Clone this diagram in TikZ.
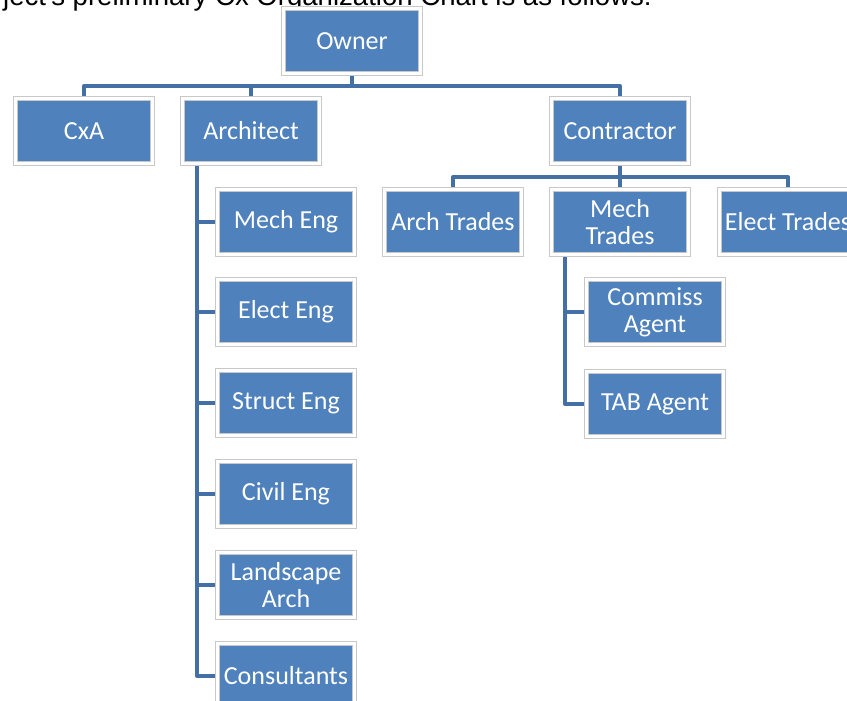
\documentclass[tikz,border=0pt]{standalone}
\usepackage{fontspec}
\setmainfont{Carlito}
\newfontfamily\arialfont{Liberation Sans}
\usetikzlibrary{backgrounds}
\definecolor{boxblue}{HTML}{4F81BD}
\definecolor{linkblue}{HTML}{4470A6}
\definecolor{boxframe}{HTML}{C8C8C8}

\begin{document}
\begin{tikzpicture}[x=0.025cm, y=-0.025cm,
    box/.style={fill=boxblue, text=white, draw=boxframe, double=white, line width=0.65pt,
        double distance=2.4pt, minimum width=3.43cm, minimum height=1.62cm, inner sep=1pt,
        align=center, font=\fontsize{18.5}{19.5}\selectfont},
    link/.style={draw=linkblue, line width=2.8pt, line join=round}]
    % Page frame
    \useasboundingbox (0,0) rectangle (847,700);
    \clip (0,0) rectangle (847,700);

    % Sentence above the chart
    \node[anchor=base east, inner sep=0pt, font=\arialfont\fontsize{19.6}{22}\selectfont] (intro) at (652,5)
        {ject's preliminary Cx Organization Chart is as follows:};

    % Top levels
    \node[box] (owner) at (352,41) {Owner};
    \node[box] (cxa) at (84,131) {CxA};
    \node[box] (arch) at (251,131) {Architect};
    \node[box] (contr) at (620,131) {Contractor};

    % Contractor's trades
    \node[box] (archtr) at (453,222) {Arch Trades};
    \node[box] (mechtr) at (620,222) {Mech\\Trades};
    \node[box] (electtr) at (788,222) {Elect Trades};
    \node[box] (commiss) at (655,312) {Commiss\\Agent};
    \node[box] (tab) at (655,404) {TAB Agent};

    % Architect's consultants
    \node[box] (mecheng) at (286,222) {Mech Eng};
    \node[box] (electeng) at (286,312) {Elect Eng};
    \node[box] (structeng) at (286,403) {Struct Eng};
    \node[box] (civileng) at (286,494) {Civil Eng};
    \node[box] (landarch) at (286,585) {Landscape\\Arch};
    \node[box] (consult) at (286,676) {Consultants};

    % Bus lines
    \coordinate (topbus) at (0,86);
    \coordinate (tradebus) at (0,177);
    \coordinate (archspine) at (197,0);
    \coordinate (mechspine) at (565,0);

    \begin{scope}[on background layer]
        % Owner to first row
        \draw[link] (owner) -- (owner |- topbus);
        \draw[link] (cxa) |- (contr |- topbus) -- (contr);
        \draw[link] (arch) -- (arch |- topbus);

        % Contractor to trades
        \draw[link] (contr) -- (contr |- tradebus);
        \draw[link] (archtr) |- (electtr |- tradebus) -- (electtr);
        \draw[link] (mechtr) |- (mechtr |- tradebus);

        % Mech trades to agents
        \draw[link] (mechtr.south -| mechspine) |- (tab.west);
        \draw[link] (mechspine |- commiss) -- (commiss.west);

        % Architect to consultants
        \draw[link] (arch.south -| archspine) |- (consult.west);
        \foreach \n in {mecheng, electeng, structeng, civileng, landarch}
            \draw[link] (archspine |- \n) -- (\n.west);
    \end{scope}
\end{tikzpicture}
\end{document}
